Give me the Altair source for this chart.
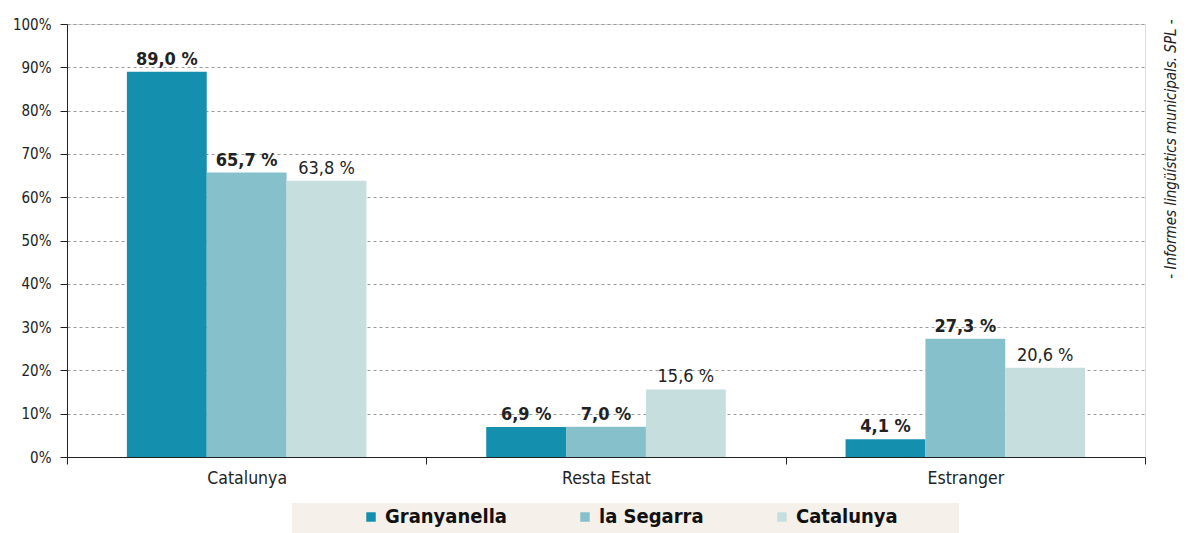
import altair as alt
import pandas as pd

categories = ["Catalunya", "Resta Estat", "Estranger"]
series = ["Granyanella", "la Segarra", "Catalunya"]
granyanella = [89.0, 6.9, 4.1]
segarra = [65.7, 7.0, 27.3]
catalunya = [63.8, 15.6, 20.6]
colors = ["#1490ae", "#86c1cb", "#c6dfde"]
y_ticks = [0, 10, 20, 30, 40, 50, 60, 70, 80, 90, 100]
source_note = "- Informes lingüístics municipals. SPL -"

rows = []
for s, vals in zip(series, [granyanella, segarra, catalunya]):
    for c, v in zip(categories, vals):
        rows.append({"origen": c, "serie": s, "valor": v,
                     "label": f"{v:.1f}".replace(".", ",") + " %"})
df = pd.DataFrame(rows)

FONT = "DejaVu Sans Condensed, DejaVu Sans, sans-serif"
W, H = 1078, 433

base = alt.Chart(df).encode(
    x=alt.X("origen:N", sort=categories, title=None,
            scale=alt.Scale(paddingInner=0, paddingOuter=0),
            axis=alt.Axis(labelAngle=0, tickBand="extent", domainColor="#222",
                          tickColor="#222", labelColor="#222", labelFontSize=17.5,
                          labelFont=FONT, tickSize=7, labelPadding=5, grid=False)),
    xOffset=alt.XOffset("serie:N", sort=series,
                        scale=alt.Scale(paddingOuter=0.75, paddingInner=0)),
)

bars = base.mark_bar().encode(
    y=alt.Y("valor:Q", title=None,
            scale=alt.Scale(domain=[0, 100], nice=False),
            axis=alt.Axis(values=y_ticks, labelExpr="datum.value + '%'",
                          grid=True, gridDash=[3, 3], gridColor="#9a9a9a",
                          domainColor="#222", tickColor="#222", labelColor="#222",
                          labelFontSize=15, labelFont=FONT, tickSize=7,
                          labelPadding=9)),
    color=alt.Color("serie:N", sort=series,
                    scale=alt.Scale(domain=series, range=colors),
                    legend=alt.Legend(orient="none", direction="horizontal",
                                      legendX=294, legendY=483, title=None,
                                      symbolType="square", symbolSize=90,
                                      symbolStrokeWidth=0, symbolOpacity=1,
                                      labelFontSize=20, labelFontWeight="bold",
                                      labelFont=FONT, labelColor="#111",
                                      columnPadding=68, labelOffset=4,
                                      padding=0)),
)

labels_bold = base.transform_filter(alt.datum.serie != "Catalunya").mark_text(
    baseline="bottom", dy=-3, fontSize=18, fontWeight="bold", font=FONT,
    color="#222"
).encode(y="valor:Q", text="label:N")

labels_reg = base.transform_filter(alt.datum.serie == "Catalunya").mark_text(
    baseline="bottom", dy=-3, fontSize=18, fontWeight="normal", font=FONT,
    color="#222"
).encode(y="valor:Q", text="label:N")

legend_box = alt.Chart(pd.DataFrame({"k": [0]})).mark_rect(
    color="#f5f0ea"
).encode(x=alt.value(225), x2=alt.value(892), y=alt.value(479), y2=alt.value(509))

note = alt.Chart(pd.DataFrame({"t": [source_note]})).mark_text(
    angle=270, fontSize=15, fontStyle="italic", font=FONT, color="#222",
    align="center", baseline="middle"
).encode(x=alt.value(1104), y=alt.value(125), text="t:N")

chart = alt.layer(legend_box, bars, labels_bold, labels_reg, note).properties(
    width=W, height=H,
    autosize=alt.AutoSizeParams(type="none"),
    padding={"left": 59, "top": 16, "right": 36, "bottom": 76},
).configure_view(fill="#f5f0ea", stroke=None).configure(background="white")

chart.save("out.html", embed_options={"renderer": "svg", "actions": False})
